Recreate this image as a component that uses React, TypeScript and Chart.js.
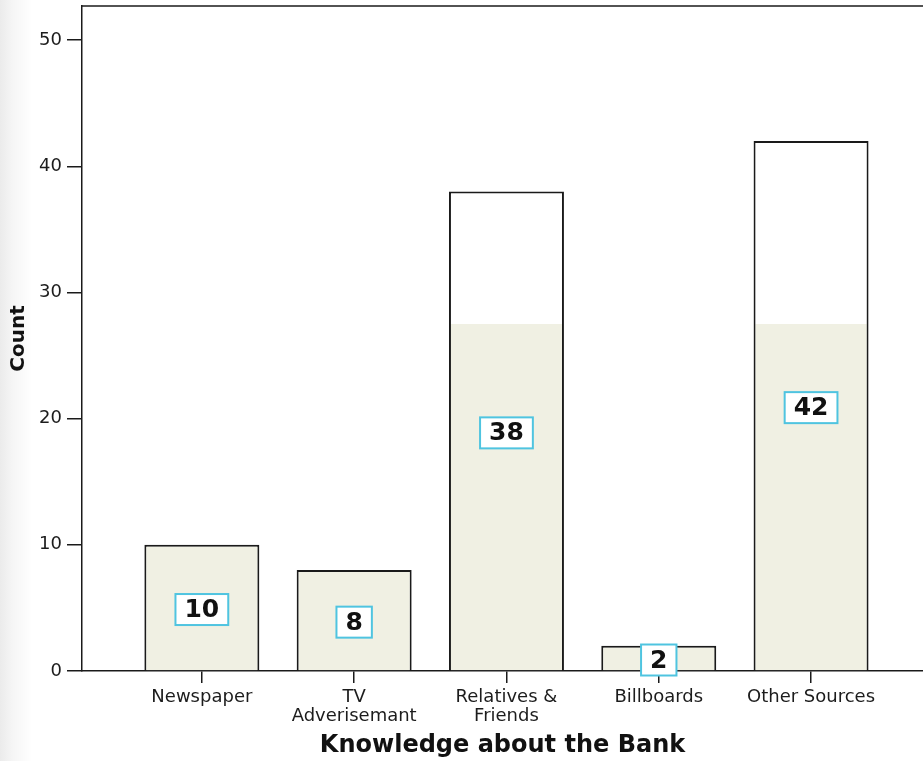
import { useEffect, useRef } from "react";
import { Chart, registerables } from "chart.js";

Chart.register(...registerables);

// Survey answers: how respondents learned about the bank
const CATEGORIES: (string | string[])[] = [
  "Newspaper",
  ["TV", "Adverisemant"],
  ["Relatives &", "Friends"],
  "Billboards",
  "Other Sources",
];
const COUNTS: number[] = [10, 8, 38, 2, 42];
const Y_TICKS: number[] = [0, 10, 20, 30, 40, 50];

// Axis ranges (x runs over category indices, with room on both sides)
const Y_MAX = 52.7;
const X_MIN = -0.787;
const X_MAX = 4.735;

// Bars are tinted up to this count and left white above it
const SHADE_LIMIT = 27.5;

const INK = "#1a1a1a";
const BAR_TINT = "#f0f0e3";
const LABEL_BORDER = "#4fc4e0";

const framePlugin = {
  id: "topFrame",
  afterDatasetsDraw(chart: Chart) {
    const { ctx, chartArea } = chart;
    ctx.save();
    ctx.strokeStyle = INK;
    ctx.lineWidth = 1.5;
    ctx.beginPath();
    ctx.moveTo(chartArea.left, chartArea.top);
    ctx.lineTo(chartArea.right, chartArea.top);
    ctx.stroke();
    ctx.restore();
  },
};

const valueBoxPlugin = {
  id: "valueBoxes",
  afterDatasetsDraw(chart: Chart) {
    const { ctx } = chart;
    const meta = chart.getDatasetMeta(0);
    ctx.save();
    ctx.font = 'bold 25px "DejaVu Sans"';
    ctx.textAlign = "center";
    ctx.textBaseline = "middle";
    meta.data.forEach((bar: any, i: number) => {
      const { x, y, base } = bar.getProps(["x", "y", "base"], true);
      const cy = (y + base) / 2 + 2;
      const text = String(COUNTS[i]);
      const w = ctx.measureText(text).width + 18;
      const h = 31;
      ctx.fillStyle = "#ffffff";
      ctx.fillRect(x - w / 2, cy - h / 2, w, h);
      ctx.strokeStyle = LABEL_BORDER;
      ctx.lineWidth = 2;
      ctx.strokeRect(x - w / 2, cy - h / 2, w, h);
      ctx.fillStyle = "#111111";
      ctx.fillText(text, x, cy + 1);
    });
    ctx.restore();
  },
};

export default function App() {
  const canvasRef = useRef<HTMLCanvasElement | null>(null);

  useEffect(() => {
    const canvas = canvasRef.current;
    if (!canvas) return;

    const chart = new Chart(canvas, {
      type: "bar",
      data: {
        datasets: [
          {
            data: COUNTS.map((v, i) => ({ x: i, y: v })),
            backgroundColor: (c: any) => {
              const { chart: ch } = c;
              const area = ch.chartArea;
              if (!area) return BAR_TINT;
              const yLim = ch.scales.y.getPixelForValue(SHADE_LIMIT);
              const g = ch.ctx.createLinearGradient(0, area.bottom, 0, area.top);
              const t = Math.min(1, Math.max(0, (area.bottom - yLim) / (area.bottom - area.top)));
              g.addColorStop(0, BAR_TINT);
              g.addColorStop(t, BAR_TINT);
              g.addColorStop(Math.min(1, t + 0.0001), "#ffffff");
              g.addColorStop(1, "#ffffff");
              return g;
            },
            borderColor: INK,
            borderWidth: 2,
            barPercentage: 0.755,
            categoryPercentage: 1,
          },
        ],
      },
      options: {
        animation: false,
        responsive: false,
        layout: { padding: { top: 6, left: 0, right: 0, bottom: 0 } },
        plugins: {
          legend: { display: false },
          tooltip: { enabled: false },
        },
        scales: {
          x: {
            type: "linear",
            min: X_MIN,
            max: X_MAX,
            offset: false,
            afterBuildTicks: (s: any) => {
              s.ticks = CATEGORIES.map((_, i) => ({ value: i }));
            },
            afterFit: (s: any) => {
              s.height = 90;
              s.paddingLeft = 0;
              s.paddingRight = 0;
            },
            ticks: {
              autoSkip: false,
              maxRotation: 0,
              includeBounds: false,
              padding: 4,
              color: "#1c1c1c",
              font: { family: '"DejaVu Sans"', size: 18, lineHeight: 1.1 },
              callback: (v: any) => CATEGORIES[v as number] ?? "",
            },
            grid: {
              display: true,
              offset: false,
              drawOnChartArea: false,
              drawTicks: true,
              tickLength: 12,
              color: INK,
              lineWidth: 1.5,
            },
            border: { display: true, color: INK, width: 1.5 },
            title: {
              display: true,
              text: "Knowledge about the Bank",
              color: "#111",
              font: { family: '"DejaVu Sans"', size: 24, weight: "bold", lineHeight: 1.2 },
              padding: { top: 0, bottom: 1 },
            },
          },
          y: {
            min: 0,
            max: Y_MAX,
            afterBuildTicks: (s: any) => {
              s.ticks = Y_TICKS.map((v) => ({ value: v }));
            },
            afterFit: (s: any) => {
              s.width = 82;
              s.paddingTop = 0;
              s.paddingBottom = 0;
            },
            ticks: {
              includeBounds: false,
              padding: 5,
              color: "#1c1c1c",
              font: { family: '"DejaVu Sans"', size: 18 },
            },
            grid: {
              display: true,
              drawOnChartArea: false,
              drawTicks: true,
              tickLength: 15,
              color: INK,
              lineWidth: 1.5,
            },
            border: { display: true, color: INK, width: 1.5 },
            title: {
              display: true,
              text: "Count",
              color: "#111",
              font: { family: '"DejaVu Sans"', size: 20, weight: "bold", lineHeight: 1.2 },
              padding: { top: 7, bottom: 0 },
            },
          },
        },
      },
      plugins: [framePlugin, valueBoxPlugin],
    });

    return () => chart.destroy();
  }, []);

  return (
    <div
      style={{
        position: "absolute",
        left: 0,
        top: 0,
        width: 923,
        height: 761,
        background: "linear-gradient(to right, #ebebeb 0px, #f5f5f5 12px, #ffffff 32px)",
      }}
    >
      <canvas ref={canvasRef} width={923} height={761} style={{ display: "block" }} />
    </div>
  );
}
